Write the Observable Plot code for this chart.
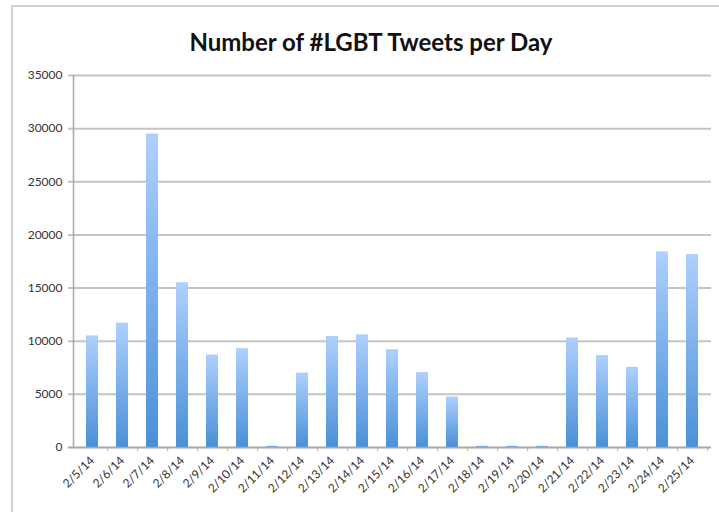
<!DOCTYPE html>
<html>
<head>
<meta charset="utf-8">
<script src="https://cdn.jsdelivr.net/npm/d3@7"></script>
<script src="https://cdn.jsdelivr.net/npm/@observablehq/plot@0.6"></script>
<style>
  html, body { margin: 0; padding: 0; background: #fff; }
  #wrap { position: relative; width: 719px; height: 512px; overflow: hidden; background: #fff; }
  #border { position: absolute; left: 11px; top: 5px; width: 720px; height: 520px;
            border-top: 2px solid #d2d2d2; border-left: 2px solid #d2d2d2; }
  #title { position: absolute; left: 0; width: 742px; top: 27px; text-align: center;
           font-family: Lato, "Open Sans", sans-serif; font-weight: bold; font-size: 24px; color: #111; }
  #chart { position: absolute; left: 0; top: 0; }
</style>
</head>
<body>
<div id="wrap">
  <div id="border"></div>
  <div id="title">Number of #LGBT Tweets per Day</div>
  <div id="chart"></div>
</div>
<script>
const dates = ["2/5/14","2/6/14","2/7/14","2/8/14","2/9/14","2/10/14","2/11/14","2/12/14","2/13/14","2/14/14","2/15/14","2/16/14","2/17/14","2/18/14","2/19/14","2/20/14","2/21/14","2/22/14","2/23/14","2/24/14","2/25/14"];
const tweets = [10500, 11700, 29500, 15500, 8700, 9300, 120, 7000, 10450, 10600, 9200, 7050, 4750, 120, 120, 120, 10300, 8650, 7550, 18400, 18150];
const yTicks = [0, 5000, 10000, 15000, 20000, 25000, 30000, 35000];

const data = dates.map((d, i) => ({date: d, value: tweets[i]}));

const plot = Plot.plot({
  width: 719,
  height: 512,
  marginTop: 75,
  marginBottom: 65,
  marginLeft: 73,
  marginRight: 8,
  style: {fontFamily: "Lato, 'Open Sans', sans-serif", fontSize: "12px", color: "#333", background: "transparent"},
  x: {domain: dates, paddingInner: 0.6, paddingOuter: 0.3, label: null},
  y: {domain: [0, 35000], label: null},
  marks: [
    Plot.gridY(yTicks, {stroke: "#c4c4c4", strokeOpacity: 1, strokeWidth: 2, insetLeft: -5}),
    Plot.barY(data, {x: "date", y: "value", fill: "url(#barGrad)"}),
    Plot.frame({anchor: "left", stroke: "#a8a8a8", strokeWidth: 1.5}),
    Plot.ruleY([0], {stroke: "#a8a8a8", strokeWidth: 1.5, insetLeft: -5}),
    Plot.axisY(yTicks, {tickSize: 0, tickPadding: 11, fill: "#333", fontSize: 12, tickFormat: d => String(d), label: null}),
    Plot.axisX({tickSize: 4, text: null, dx: 15.19, stroke: "#a8a8a8", label: null}),
    Plot.axisX({tickSize: 0, tickPadding: 11, tickRotate: -45, fill: "#333", fontSize: 12, label: null})
  ]
});

const svg = d3.select(plot);
const defs = svg.insert("defs", ":first-child");
const g = defs.append("linearGradient").attr("id", "barGrad")
  .attr("x1", 0).attr("y1", 0).attr("x2", 0).attr("y2", 1);
g.append("stop").attr("offset", "0%").attr("stop-color", "#aed0fd");
g.append("stop").attr("offset", "100%").attr("stop-color", "#4a90d8");

document.getElementById("chart").appendChild(plot);
</script>
</body>
</html>
